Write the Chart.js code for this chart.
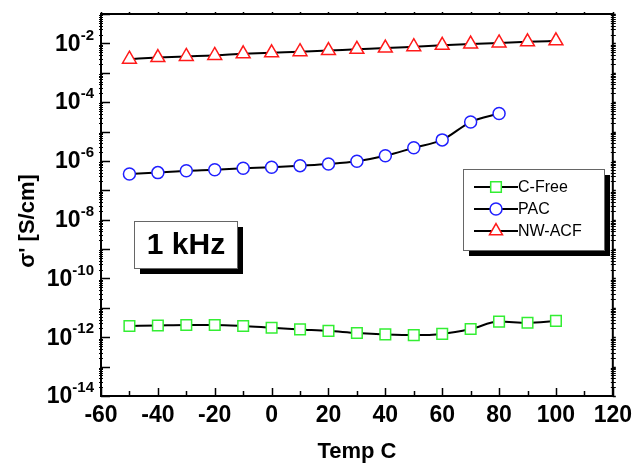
<!DOCTYPE html>
<html>
<head>
<meta charset="utf-8">
<script src="https://cdn.jsdelivr.net/npm/chart.js@4/dist/chart.umd.min.js"></script>
<style>
  html, body { margin: 0; padding: 0; background: #fff; }
  canvas { display: block; }
</style>
</head>
<body>
<canvas id="c" width="638" height="467"></canvas>
<script>
const temps = [-50, -40, -30, -20, -10, 0, 10, 20, 30, 40, 50, 60, 70, 80, 90, 100];
const cFree = [2.4e-12, 2.5e-12, 2.6e-12, 2.6e-12, 2.4e-12, 2.1e-12, 1.85e-12, 1.65e-12,
               1.4e-12, 1.25e-12, 1.18e-12, 1.3e-12, 1.9e-12, 3.4e-12, 3.1e-12, 3.6e-12];
const pac = [3.6e-7, 4.0e-7, 4.6e-7, 5.0e-7, 5.6e-7, 6.1e-7, 6.9e-7, 7.9e-7,
             9.8e-7, 1.5e-6, 2.8e-6, 5.2e-6, 2.1e-5, 4.1e-5];
const nwAcf = [2.9e-3, 3.3e-3, 3.6e-3, 3.9e-3, 4.4e-3, 4.8e-3, 5.2e-3, 5.7e-3,
               6.3e-3, 6.9e-3, 7.7e-3, 8.6e-3, 9.5e-3, 1.04e-2, 1.13e-2, 1.22e-2];
const yExps = [-2, -4, -6, -8, -10, -12, -14];

const SERIES = [
  { label: "C-Free", data: cFree, color: "#33ee33", style: "rect", r: 7.5, lr: 7.5 },
  { label: "PAC", data: pac, color: "#2020ff", style: "circle", r: 6, lr: 6 },
  { label: "NW-ACF", data: nwAcf, color: "#ff1a1a", style: "triangle", r: 8, lr: 7.5 },
];
const FONT = "'Liberation Sans', Arial, sans-serif";

const decor = {
  id: "decor",
  afterDraw(chart) {
    const { ctx, chartArea: a, scales: { x, y } } = chart;
    ctx.save();
    ctx.strokeStyle = "#000";
    // tick marks
    ctx.lineWidth = 1.5;
    ctx.beginPath();
    for (let t = -60; t <= 120; t += 10) {
      const px = Math.round(x.getPixelForValue(t)) + 0.5;
      const len = t % 20 === 0 ? 8 : 5;
      ctx.moveTo(px, a.bottom); ctx.lineTo(px, a.bottom - len);
      ctx.moveTo(px, a.top); ctx.lineTo(px, a.top - 2);
    }
    for (let e = -14; e <= -1; e++) {
      const py = Math.round(y.getPixelForValue(Math.pow(10, e))) + 0.5;
      ctx.moveTo(a.left, py); ctx.lineTo(a.left + 9, py);
      ctx.moveTo(a.right, py); ctx.lineTo(a.right + 3, py);
    }
    ctx.stroke();
    ctx.lineWidth = 1;
    ctx.beginPath();
    for (let e = -14; e < -1; e++) {
      for (let m = 2; m <= 9; m++) {
        const py = Math.round(y.getPixelForValue(m * Math.pow(10, e))) + 0.5;
        ctx.moveTo(a.left - 2, py); ctx.lineTo(a.left + 2, py);
        ctx.moveTo(a.right - 2, py); ctx.lineTo(a.right + 3, py);
      }
    }
    ctx.stroke();
    // frame
    ctx.lineWidth = 2;
    ctx.strokeRect(a.left, a.top, a.right - a.left, a.bottom - a.top);

    // y tick labels 10^n
    ctx.fillStyle = "#000";
    ctx.textBaseline = "middle";
    ctx.textAlign = "left";
    yExps.forEach(e => {
      const py = y.getPixelForValue(Math.pow(10, e));
      const sup = String(e);
      ctx.font = "bold 15px " + FONT;
      const sw = ctx.measureText(sup).width;
      ctx.font = "bold 23px " + FONT;
      const bw = ctx.measureText("10").width;
      const right = a.left - 7;
      ctx.fillText("10", right - sw - bw, py + 1);
      ctx.font = "bold 15px " + FONT;
      ctx.fillText(sup, right - sw, py - 8);
    });

    // axis titles
    ctx.textAlign = "center";
    ctx.font = "bold 22px " + FONT;
    ctx.fillText("Temp C", (a.left + a.right) / 2, 452);
    ctx.save();
    ctx.translate(28, 221);
    ctx.rotate(-Math.PI / 2);
    ctx.fillText("σ' [S/cm]", 0, 0);
    ctx.restore();

    // "1 kHz" box
    ctx.fillStyle = "#000";
    ctx.fillRect(140, 227, 103, 47);
    ctx.fillStyle = "#fff";
    ctx.fillRect(134, 221, 103, 47);
    ctx.lineWidth = 1;
    ctx.strokeStyle = "#666";
    ctx.strokeRect(134.5, 221.5, 103, 47);
    ctx.fillStyle = "#000";
    ctx.font = "bold 30px " + FONT;
    ctx.fillText("1 kHz", 186, 246);

    // legend
    ctx.fillStyle = "#000";
    ctx.fillRect(469, 175, 141, 81);
    ctx.fillStyle = "#fff";
    ctx.fillRect(463, 169, 141, 81);
    ctx.strokeStyle = "#666";
    ctx.strokeRect(463.5, 169.5, 141, 81);
    ctx.font = "16px " + FONT;
    ctx.textAlign = "left";
    SERIES.forEach((s, i) => {
      const ly = 187 + i * 22;
      ctx.strokeStyle = "#000";
      ctx.lineWidth = 2;
      ctx.beginPath(); ctx.moveTo(474, ly); ctx.lineTo(518, ly); ctx.stroke();
      ctx.fillStyle = "#fff";
      ctx.strokeStyle = s.color;
      ctx.lineWidth = 1.5;
      Chart.helpers.drawPoint(ctx, { pointStyle: s.style, radius: s.lr, borderWidth: 1.5, rotation: 0 }, 496, ly);
      ctx.fillStyle = "#000";
      ctx.fillText(s.label, 518, ly + 1);
    });
    ctx.restore();
  }
};

new Chart(document.getElementById("c"), {
  type: "line",
  data: {
    datasets: SERIES.map(s => ({
      label: s.label,
      data: s.data.map((v, i) => ({ x: temps[i], y: v })),
      borderColor: "#000",
      borderWidth: 2,
      pointStyle: s.style,
      pointRadius: s.r,
      pointBorderColor: s.color,
      pointBackgroundColor: "#fff",
      pointBorderWidth: 1.5,
      cubicInterpolationMode: "monotone",
    })),
  },
  options: {
    responsive: false,
    devicePixelRatio: 1,
    animation: false,
    layout: { padding: { top: 14, right: 21, left: 0, bottom: 0 } },
    scales: {
      x: {
        type: "linear", min: -60, max: 120,
        ticks: { stepSize: 20, color: "#000", padding: 6, font: { family: FONT, size: 23, weight: "bold" } },
        grid: { display: false, drawTicks: false },
        border: { display: false },
        afterFit: s => { s.height = 71; },
      },
      y: {
        type: "logarithmic", min: 1e-14, max: 1e-1,
        ticks: { display: false },
        grid: { display: false, drawTicks: false },
        border: { display: false },
        afterFit: s => { s.width = 101; },
      },
    },
    plugins: { legend: { display: false }, tooltip: { enabled: false } },
  },
  plugins: [decor],
});
</script>
</body>
</html>
